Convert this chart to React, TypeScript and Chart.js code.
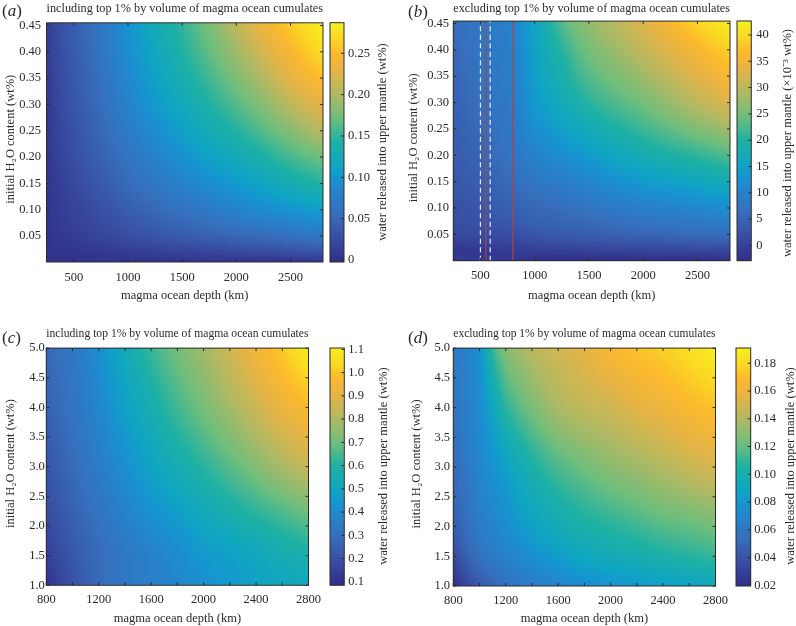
import React, { useEffect, useRef } from "react";
import { Chart, registerables } from "chart.js";

Chart.register(...registerables);

const colorStops: number[] = [0, 0.1, 0.2, 0.3, 0.35, 0.4, 0.5, 0.6, 0.7, 0.8, 0.87, 0.93, 1];
const colorValues: number[][] = [
  [49, 47, 137], [56, 78, 163], [55, 110, 188], [35, 135, 205], [22, 150, 208], [15, 165, 195],
  [30, 177, 165], [110, 190, 125], [175, 185, 100], [230, 180, 70], [252, 185, 45], [250, 215, 35], [248, 240, 30],
];

const titleIncl = "including top 1% by volume of magma ocean cumulates";
const titleExcl = "excluding top 1% by volume of magma ocean cumulates";
const xLabel = "magma ocean depth (km)";
const yLabel = "  initial H\u2082O content (wt%)";
const cbarWt = "water released into upper mantle (wt%)";
const cbarMilli = "water released into upper mantle (\u00d710\u207b\u00b3 wt%)";

// panel a
const depthsA = [250, 400, 600, 800, 1000, 1250, 1500, 1750, 2000, 2250, 2500, 2800];
const waterA = [0.001, 0.02, 0.05, 0.1, 0.15, 0.2, 0.25, 0.3, 0.35, 0.4, 0.455];
const gridA = [
  [0.0, 0.0, 0.001, 0.001, 0.001, 0.002, 0.002, 0.003, 0.003, 0.004, 0.004, 0.005],
  [0.001, 0.003, 0.005, 0.008, 0.011, 0.014, 0.017, 0.02, 0.023, 0.026, 0.029, 0.033],
  [0.002, 0.008, 0.013, 0.02, 0.026, 0.033, 0.039, 0.044, 0.05, 0.055, 0.06, 0.067],
  [0.003, 0.012, 0.021, 0.031, 0.04, 0.051, 0.061, 0.07, 0.08, 0.089, 0.098, 0.108],
  [0.004, 0.015, 0.028, 0.04, 0.053, 0.066, 0.079, 0.091, 0.103, 0.116, 0.13, 0.145],
  [0.005, 0.019, 0.034, 0.048, 0.062, 0.079, 0.095, 0.11, 0.124, 0.14, 0.157, 0.174],
  [0.006, 0.022, 0.038, 0.054, 0.071, 0.091, 0.109, 0.127, 0.144, 0.163, 0.182, 0.206],
  [0.007, 0.025, 0.042, 0.06, 0.08, 0.102, 0.122, 0.142, 0.162, 0.183, 0.207, 0.231],
  [0.008, 0.027, 0.045, 0.065, 0.086, 0.11, 0.133, 0.155, 0.178, 0.202, 0.229, 0.253],
  [0.009, 0.029, 0.048, 0.069, 0.091, 0.118, 0.142, 0.167, 0.193, 0.22, 0.245, 0.272],
  [0.01, 0.031, 0.05, 0.072, 0.096, 0.125, 0.15, 0.178, 0.208, 0.238, 0.262, 0.287],
];

// panel b
const depthsB = [250, 500, 800, 1000, 1250, 1500, 2000, 2500, 2800];
const waterB = [0.0, 0.02, 0.05, 0.1, 0.2, 0.3, 0.4, 0.4545];
const gridB = [
  [-1.0, -1.5, -1.8, -2.5, -2.8, -2.9, -2.9, -2.8, -2.7],
  [-1.5, -1.2, -0.8, -0.3, 0.0, 0.2, 0.5, 0.8, 1.0],
  [1.0, 1.4, 2.0, 3.0, 3.5, 4.0, 5.0, 6.0, 6.5],
  [2.0, 3.0, 4.5, 5.5, 6.3, 7.5, 9.5, 11.0, 12.0],
  [3.5, 5.0, 7.5, 10.0, 12.0, 14.0, 18.0, 21.0, 23.0],
  [4.5, 6.5, 9.0, 13.5, 17.0, 20.5, 25.0, 30.0, 33.0],
  [5.5, 7.5, 10.0, 15.0, 20.5, 25.0, 30.5, 36.0, 39.0],
  [6.0, 8.0, 10.5, 15.5, 23.0, 27.0, 33.0, 39.5, 42.5],
];
const dashedDepths = [500, 590];
const solidDepths = [550, 800];

// panel c
const depthsC = [800, 1000, 1200, 1400, 1600, 1800, 2000, 2200, 2400, 2600, 2800];
const waterC = [1, 1.5, 2, 3, 4, 5];
const gridC = [
  [0.1, 0.2, 0.28, 0.33, 0.36, 0.39, 0.42, 0.45, 0.48, 0.5, 0.52],
  [0.14, 0.22, 0.28, 0.33, 0.37, 0.41, 0.45, 0.48, 0.51, 0.55, 0.58],
  [0.17, 0.24, 0.3, 0.36, 0.41, 0.45, 0.5, 0.54, 0.58, 0.62, 0.66],
  [0.21, 0.28, 0.35, 0.42, 0.49, 0.55, 0.61, 0.67, 0.73, 0.79, 0.84],
  [0.25, 0.31, 0.39, 0.48, 0.56, 0.64, 0.71, 0.78, 0.85, 0.92, 0.97],
  [0.27, 0.33, 0.42, 0.53, 0.63, 0.71, 0.78, 0.86, 0.94, 1.01, 1.1],
];

// panel d
const depthsD = [800, 900, 1000, 1100, 1200, 1400, 1600, 1800, 2000, 2200, 2400, 2600, 2800];
const waterD = [1, 1.5, 2, 3, 4, 5];
const gridD = [
  [0.02, 0.033, 0.043, 0.05, 0.056, 0.063, 0.069, 0.074, 0.078, 0.081, 0.085, 0.087, 0.09],
  [0.034, 0.046, 0.056, 0.062, 0.067, 0.076, 0.083, 0.09, 0.095, 0.098, 0.103, 0.107, 0.11],
  [0.044, 0.054, 0.063, 0.069, 0.075, 0.086, 0.095, 0.102, 0.107, 0.112, 0.117, 0.12, 0.124],
  [0.052, 0.061, 0.07, 0.078, 0.086, 0.103, 0.115, 0.123, 0.13, 0.135, 0.141, 0.147, 0.152],
  [0.058, 0.066, 0.074, 0.09, 0.108, 0.125, 0.138, 0.145, 0.149, 0.156, 0.161, 0.167, 0.172],
  [0.062, 0.068, 0.078, 0.11, 0.128, 0.143, 0.15, 0.157, 0.167, 0.172, 0.177, 0.183, 0.191],
];

const xTicksTop = [500, 1000, 1500, 2000, 2500];
const yTicksTop = [0.05, 0.1, 0.15, 0.2, 0.25, 0.3, 0.35, 0.4, 0.45];
const xTicksBottom = [800, 1200, 1600, 2000, 2400, 2800];
const xMinorBottom = [1000, 1400, 1800, 2200, 2600];
const yTicksBottom = [1, 1.5, 2, 2.5, 3, 3.5, 4, 4.5, 5];
const cbarTicksA = [0, 0.05, 0.1, 0.15, 0.2, 0.25];
const cbarTicksB = [0, 5, 10, 15, 20, 25, 30, 35, 40];
const cbarTicksC = [0.1, 0.2, 0.3, 0.4, 0.5, 0.6, 0.7, 0.8, 0.9, 1.0, 1.1];
const cbarTicksD = [0.02, 0.04, 0.06, 0.08, 0.1, 0.12, 0.14, 0.16, 0.18];

const FONT = "'Liberation Serif', serif";
const FONT_SIZE = 12.5;
const INK = "#2b2b2b";

function locate(arr: number[], v: number): [number, number] {
  let i = 0;
  while (i < arr.length - 2 && v > arr[i + 1]) i++;
  const u = (v - arr[i]) / (arr[i + 1] - arr[i]);
  return [i, Math.max(0, Math.min(1, u))];
}

function colorAt(f: number): number[] {
  const t = Math.max(0, Math.min(1, f));
  const [i, u] = locate(colorStops, t);
  return [0, 1, 2].map((k) => colorValues[i][k] * (1 - u) + colorValues[i + 1][k] * u);
}

// Smooth shading between the values.
function shade(xs: number[], ys: number[], x: number): number {
  const [i, u] = locate(xs, x);
  const n = xs.length;
  const slope = (k: number) => {
    const a = Math.max(0, k - 1);
    const b = Math.min(n - 1, k + 1);
    return (ys[b] - ys[a]) / (xs[b] - xs[a]);
  };
  const h = xs[i + 1] - xs[i];
  const u2 = u * u;
  const u3 = u2 * u;
  return (
    (2 * u3 - 3 * u2 + 1) * ys[i] +
    (u3 - 2 * u2 + u) * h * slope(i) +
    (-2 * u3 + 3 * u2) * ys[i + 1] +
    (u3 - u2) * h * slope(i + 1)
  );
}

function paint(chart: any, fn: (i: number, j: number) => number[]) {
  const a = chart.chartArea;
  const w = Math.ceil(a.right - a.left);
  const h = Math.ceil(a.bottom - a.top);
  const off = document.createElement("canvas");
  off.width = w;
  off.height = h;
  const octx = off.getContext("2d") as CanvasRenderingContext2D;
  const img = octx.createImageData(w, h);
  for (let j = 0; j < h; j++) {
    for (let i = 0; i < w; i++) {
      const c = fn(i, j);
      const p = (j * w + i) * 4;
      img.data[p] = c[0];
      img.data[p + 1] = c[1];
      img.data[p + 2] = c[2];
      img.data[p + 3] = 255;
    }
  }
  octx.putImageData(img, 0, 0);
  chart.ctx.drawImage(off, a.left, a.top, a.right - a.left, a.bottom - a.top);
}

function heatPlugin(xs: number[], ys: number[], grid: number[][], vmin: number, vmax: number) {
  return {
    id: "heat",
    beforeDatasetsDraw(chart: any) {
      const a = chart.chartArea;
      const sx = chart.scales.x;
      const sy = chart.scales.y;
      const columns = new Map<number, number[]>();
      paint(chart, (i, j) => {
        let col = columns.get(i);
        if (!col) {
          const x = sx.getValueForPixel(a.left + i + 0.5);
          col = grid.map((row) => shade(xs, row, x));
          columns.set(i, col);
        }
        const v = shade(ys, col, sy.getValueForPixel(a.top + j + 0.5));
        return colorAt((v - vmin) / (vmax - vmin));
      });
    },
  };
}

function framePlugin(xTicks: number[], yTicks: number[]) {
  return {
    id: "frame",
    afterDatasetsDraw(chart: any) {
      const { ctx, chartArea: a, scales } = chart;
      ctx.save();
      ctx.strokeStyle = INK;
      ctx.lineWidth = 1;
      ctx.beginPath();
      for (const t of xTicks) {
        const p = scales.x.getPixelForValue(t);
        ctx.moveTo(p, a.bottom);
        ctx.lineTo(p, a.bottom - 3);
        ctx.moveTo(p, a.top);
        ctx.lineTo(p, a.top + 3);
      }
      for (const t of yTicks) {
        const p = scales.y.getPixelForValue(t);
        ctx.moveTo(a.left, p);
        ctx.lineTo(a.left + 3, p);
        ctx.moveTo(a.right, p);
        ctx.lineTo(a.right - 3, p);
      }
      ctx.stroke();
      ctx.strokeRect(a.left, a.top, a.right - a.left, a.bottom - a.top);
      ctx.restore();
    },
  };
}

type Panel = {
  letter: string; letterX: number; letterY: number;
  title: string; titleTop: number; titleBottom: number;
  top: number; canvasBottom: number; l: number; r: number; t: number; b: number;
  xMin: number; xMax: number; yMin: number; yMax: number;
  xTicks: number[]; xMarks: number[]; yTicks: number[]; yDigits: number;
  xs: number[]; ys: number[]; grid: number[][];
  yPad: number; xPad: number; xTitlePad: number; yTitleX: number; left: number;
  cl: number; cr: number; cMin: number; cMax: number; cTicks: number[]; cDigits: number; cPad: number;
  cTitle: string; cTitleX: number; cTitleY: number;
  lines?: boolean;
};

const panels: Panel[] = [
  {
    letter: "a", letterX: 2, letterY: 11, title: titleIncl, titleTop: 0.8, titleBottom: 7,
    top: 0, canvasBottom: 310, l: 46.5, r: 323, t: 22.7, b: 262,
    xMin: 248, xMax: 2800, yMin: 0.001, yMax: 0.455,
    xTicks: xTicksTop, xMarks: xTicksTop, yTicks: yTicksTop, yDigits: 2,
    xs: depthsA, ys: waterA, grid: gridA, yPad: 5.5, xPad: 8, xTitlePad: 6.8, yTitleX: 11, left: 0,
    cl: 330, cr: 344, cMin: -0.0024, cMax: 0.287, cTicks: cbarTicksA, cDigits: 2, cPad: 4,
    cTitle: cbarWt, cTitleX: 383, cTitleY: 142,
  },
  {
    letter: "b", letterX: 408, letterY: 12, title: titleExcl, titleTop: 0.8, titleBottom: 5.3,
    top: 0, canvasBottom: 310, l: 453.3, r: 730, t: 21, b: 260.7,
    xMin: 250, xMax: 2800, yMin: 0, yMax: 0.4545,
    xTicks: xTicksTop, xMarks: xTicksTop, yTicks: yTicksTop, yDigits: 2,
    xs: depthsB, ys: waterB, grid: gridB, yPad: 4.3, xPad: 8, xTitlePad: 6.8, yTitleX: 414, left: 400,
    cl: 736.7, cr: 751, cMin: -2.9, cMax: 42.66, cTicks: cbarTicksB, cDigits: 0, cPad: 5,
    cTitle: cbarMilli, cTitleX: 787, cTitleY: 143, lines: true,
  },
  {
    letter: "c", letterX: 2, letterY: 338, title: titleIncl, titleTop: 10.1, titleBottom: 7,
    top: 316, canvasBottom: 626, l: 46.3, r: 315.3, t: 348, b: 585.3,
    xMin: 800, xMax: 2800, yMin: 1, yMax: 5,
    xTicks: xTicksBottom, xMarks: [...xTicksBottom, ...xMinorBottom], yTicks: yTicksBottom, yDigits: 1,
    xs: depthsC, ys: waterC, grid: gridC, yPad: 1.5, xPad: 7, xTitlePad: 0, yTitleX: 11, left: 0,
    cl: 329.7, cr: 344, cMin: 0.085, cMax: 1.106, cTicks: cbarTicksC, cDigits: 1, cPad: 4,
    cTitle: cbarWt, cTitleX: 383, cTitleY: 466,
  },
  {
    letter: "d", letterX: 408, letterY: 338, title: titleExcl, titleTop: 10.1, titleBottom: 7,
    top: 316, canvasBottom: 626, l: 453.3, r: 722, t: 348, b: 586,
    xMin: 800, xMax: 2800, yMin: 1, yMax: 5,
    xTicks: xTicksBottom, xMarks: [...xTicksBottom, ...xMinorBottom], yTicks: yTicksBottom, yDigits: 1,
    xs: depthsD, ys: waterD, grid: gridD, yPad: 3.3, xPad: 7, xTitlePad: 0, yTitleX: 417, left: 400,
    cl: 736, cr: 750.7, cMin: 0.0195, cMax: 0.191, cTicks: cbarTicksD, cDigits: 2, cPad: 3.5,
    cTitle: cbarWt, cTitleX: 790.7, cTitleY: 466,
  },
];

function makeHeat(canvas: HTMLCanvasElement, p: Panel) {
  const datasets: any[] = [
    {
      type: "scatter",
      label: "water released",
      data: p.grid.flatMap((row, iy) => row.map((v, ix) => ({ x: p.xs[ix], y: p.ys[iy], v }))),
      pointRadius: 0,
      showLine: false,
    },
  ];
  if (p.lines) {
    dashedDepths.forEach((d) =>
      datasets.push({
        type: "line",
        data: [{ x: d, y: p.yMin }, { x: d, y: p.yMax }],
        borderColor: "#dfeefa",
        borderWidth: 1.2,
        borderDash: [5, 3.5],
        pointRadius: 0,
      })
    );
    solidDepths.forEach((d) =>
      datasets.push({
        type: "line",
        data: [{ x: d, y: p.yMin }, { x: d, y: p.yMax }],
        borderColor: "#a8444f",
        borderWidth: 1.2,
        pointRadius: 0,
      })
    );
  }
  const font = { family: FONT, size: FONT_SIZE };
  return new Chart(canvas, {
    type: "scatter",
    data: { datasets },
    options: {
      animation: false,
      responsive: false,
      events: [],
      layout: {
        autoPadding: false,
        padding: { left: 0, top: 0, bottom: 0, right: canvas.width - (p.r - p.left) },
      },
      plugins: {
        legend: { display: false },
        tooltip: { enabled: false },
        title: {
          display: true,
          text: p.title,
          fullSize: false,
          color: INK,
          font: { family: FONT, size: FONT_SIZE, weight: "normal", lineHeight: 1.2 },
          padding: { top: p.titleTop, bottom: p.titleBottom },
        },
      },
      scales: {
        x: {
          type: "linear",
          min: p.xMin,
          max: p.xMax,
          grid: { display: false, drawTicks: false },
          border: { display: false },
          afterBuildTicks: (s: any) => { s.ticks = p.xTicks.map((value) => ({ value })); },
          afterFit: (s: any) => { s.height = p.canvasBottom - p.b; },
          ticks: { color: INK, font, padding: p.xPad, maxRotation: 0, autoSkip: false, callback: (v: any) => String(v) },
          title: { display: true, text: xLabel, color: INK, font, padding: { top: 0, bottom: p.xTitlePad } },
        },
        y: {
          type: "linear",
          min: p.yMin,
          max: p.yMax,
          grid: { display: false, drawTicks: false },
          border: { display: false },
          afterBuildTicks: (s: any) => { s.ticks = p.yTicks.map((value) => ({ value })); },
          afterFit: (s: any) => { s.width = p.l - p.left; },
          ticks: { color: INK, font, padding: p.yPad, autoSkip: false, callback: (v: any) => Number(v).toFixed(p.yDigits) },
          title: { display: true, text: yLabel, color: INK, font, padding: { top: p.yTitleX - p.left - 7.5, bottom: 0 } },
        },
      },
    } as any,
    plugins: [heatPlugin(p.xs, p.ys, p.grid, p.cMin, p.cMax), framePlugin(p.xMarks, p.yTicks)],
  } as any);
}

function makeBar(canvas: HTMLCanvasElement, p: Panel) {
  const font = { family: FONT, size: FONT_SIZE };
  const colorbarPlugin = {
    id: "colorbar",
    beforeDatasetsDraw(chart: any) {
      const a = chart.chartArea;
      const sy = chart.scales.y;
      paint(chart, (_i, j) => colorAt((sy.getValueForPixel(a.top + j + 0.5) - p.cMin) / (p.cMax - p.cMin)));
    },
    afterDatasetsDraw(chart: any) {
      const { ctx, chartArea: a, scales } = chart;
      ctx.save();
      ctx.strokeStyle = INK;
      ctx.lineWidth = 1;
      ctx.beginPath();
      for (const t of p.cTicks) {
        const y = scales.y.getPixelForValue(t);
        ctx.moveTo(a.right, y);
        ctx.lineTo(a.right - 3, y);
      }
      ctx.stroke();
      ctx.strokeRect(a.left, a.top, a.right - a.left, a.bottom - a.top);
      ctx.fillStyle = INK;
      ctx.font = FONT_SIZE + "px " + FONT;
      ctx.textAlign = "center";
      ctx.textBaseline = "middle";
      const ox = canvas.getBoundingClientRect().left;
      ctx.translate(p.cTitleX - ox, p.cTitleY - p.top);
      ctx.rotate(-Math.PI / 2);
      ctx.fillText(p.cTitle, 0, 0);
      ctx.restore();
    },
  };
  return new Chart(canvas, {
    type: "scatter",
    data: { datasets: [{ label: "scale", data: p.cTicks.map((y) => ({ x: 0, y })), pointRadius: 0 }] },
    options: {
      animation: false,
      responsive: false,
      events: [],
      layout: {
        autoPadding: false,
        padding: { left: 1, top: p.t - p.top, bottom: p.canvasBottom - p.b, right: 0 },
      },
      plugins: { legend: { display: false }, tooltip: { enabled: false } },
      scales: {
        x: { type: "linear", display: false, min: -1, max: 1 },
        y: {
          type: "linear",
          position: "right",
          min: p.cMin,
          max: p.cMax,
          grid: { display: false, drawTicks: false },
          border: { display: false },
          afterBuildTicks: (s: any) => { s.ticks = p.cTicks.map((value) => ({ value })); },
          afterFit: (s: any) => { s.width = canvas.width - 1 - (p.cr - p.cl); },
          ticks: { color: INK, font, padding: p.cPad, autoSkip: false, callback: (v: any) => (Number(v) === 0 ? "0" : Number(v).toFixed(p.cDigits)) },
        },
      },
    } as any,
    plugins: [colorbarPlugin],
  } as any);
}

function PanelView({ p }: { p: Panel }) {
  const heat = useRef<HTMLCanvasElement>(null);
  const bar = useRef<HTMLCanvasElement>(null);
  useEffect(() => {
    const a = makeHeat(heat.current as HTMLCanvasElement, p);
    const b = makeBar(bar.current as HTMLCanvasElement, p);
    return () => {
      a.destroy();
      b.destroy();
    };
  }, [p]);
  const barL = p.cl - 1;
  const heatW = Math.floor(p.cl) - 1 - p.left;
  const h = p.canvasBottom - p.top;
  return (
    <>
      <canvas ref={heat} width={heatW} height={h} style={{ position: "absolute", left: p.left, top: p.top }} />
      <canvas ref={bar} width={796 - barL} height={h} style={{ position: "absolute", left: barL, top: p.top }} />
      <div
        style={{
          position: "absolute",
          left: p.letterX,
          top: p.letterY - 10,
          fontFamily: FONT,
          fontSize: 17,
          lineHeight: "20px",
          color: INK,
        }}
      >
        (<i>{p.letter}</i>)
      </div>
    </>
  );
}

export default function App() {
  return (
    <div style={{ position: "absolute", left: 0, top: 0, width: 796, height: 626, background: "#fff", overflow: "hidden" }}>
      {panels.map((p) => (
        <PanelView key={p.letter} p={p} />
      ))}
    </div>
  );
}
